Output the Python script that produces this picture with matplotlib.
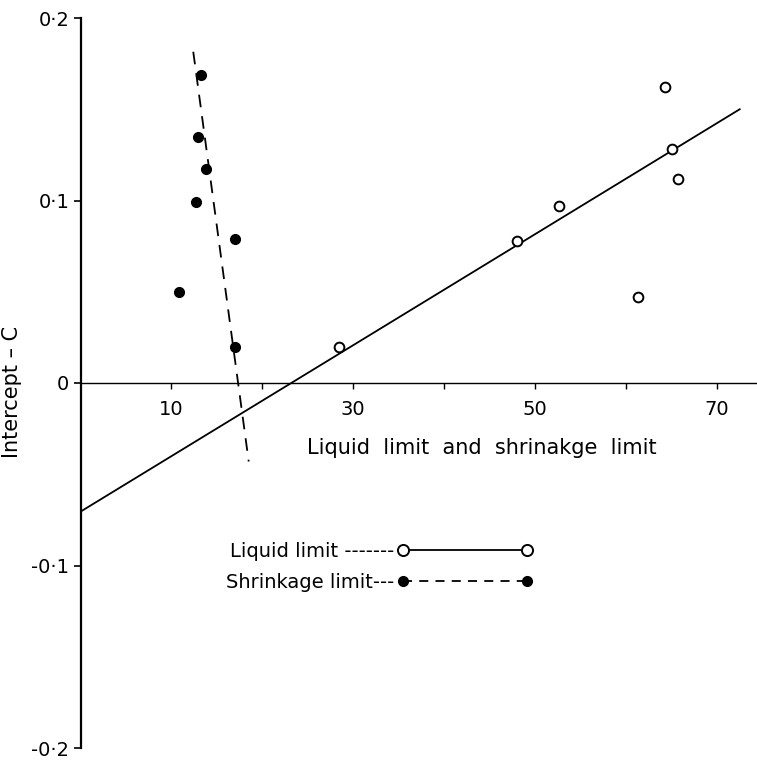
import matplotlib.pyplot as plt
from matplotlib.lines import Line2D

# liquid limit points (open circles)
liquid_x = [28.4, 48.0, 52.6, 61.3, 65.0, 65.7, 64.3]
liquid_c = [0.020, 0.078, 0.097, 0.047, 0.128, 0.112, 0.162]

# shrinkage limit points (filled circles)
shrink_x = [13.3, 12.9, 13.8, 12.7, 17.0, 10.8, 17.0]
shrink_c = [0.169, 0.135, 0.117, 0.099, 0.079, 0.050, 0.020]

# fitted lines, end points
liquid_fit_x = [0, 72.5]
liquid_fit_c = [-0.0705, 0.150]
shrink_fit_x = [12.4, 18.5]
shrink_fit_c = [0.1815, -0.043]

xticks = [10, 20, 30, 40, 50, 60, 70]
xticklabels = ["10", "", "30", "", "50", "", "70"]
yticks = [-0.2, -0.1, 0, 0.1, 0.2]
yticklabels = ["-0·2", "-0·1", "0", "0·1", "0·2"]

fs = 14
fig = plt.figure(figsize=(7.57, 7.63), dpi=100)
ax = fig.add_axes([80.5/757, 15/763, (757-80.5)/757, 730/763])

ax.plot(liquid_fit_x, liquid_fit_c, color="black", lw=1.3)
ax.plot(shrink_fit_x, shrink_fit_c, color="black", lw=1.3, dashes=(7, 5))
ax.plot(liquid_x, liquid_c, "o", ms=7, mfc="white", mec="black", mew=1.4)
ax.plot(shrink_x, shrink_c, "o", ms=7, mfc="black", mec="black")

ax.set_xlim(0, 74.4)
ax.set_ylim(-0.2, 0.2)

ax.spines["top"].set_visible(False)
ax.spines["right"].set_visible(False)
ax.spines["bottom"].set_position(("data", 0))
ax.spines["bottom"].set_linewidth(1.0)
ax.spines["left"].set_linewidth(1.6)

ax.set_xticks(xticks)
ax.set_xticklabels(xticklabels, fontsize=fs)
ax.set_yticks(yticks)
ax.set_yticklabels(yticklabels, fontsize=fs)
ax.tick_params(axis="x", direction="out", length=4, width=1, pad=8)
ax.tick_params(axis="y", direction="out", length=5, width=1.2, pad=3)

fig.text(12/757, 1 - 392/763, "Intercept – C", rotation=90, fontsize=15,
         ha="center", va="center")
fig.text(482/757, 1 - 448/763, "Liquid  limit  and  shrinakge  limit",
         fontsize=15, ha="center", va="center")

handles = [
    Line2D([], [], color="black", lw=1.3, marker="o", ms=8, mfc="white",
           mec="black", mew=1.4),
    Line2D([], [], color="black", lw=1.3, dashes=(5, 4), marker="o", ms=7,
           mfc="black", mec="black"),
]
labels = ["Liquid limit -------", "Shrinkage limit---"]
fig.legend(handles, labels, loc="upper left",
           bbox_to_anchor=(226/757, 1 - 542/763), frameon=False,
           markerfirst=False, numpoints=2, handlelength=7.0,
           handletextpad=0.15, labelspacing=0.62, borderpad=0,
           borderaxespad=0, fontsize=fs)

fig.savefig("out.png", dpi=100)
